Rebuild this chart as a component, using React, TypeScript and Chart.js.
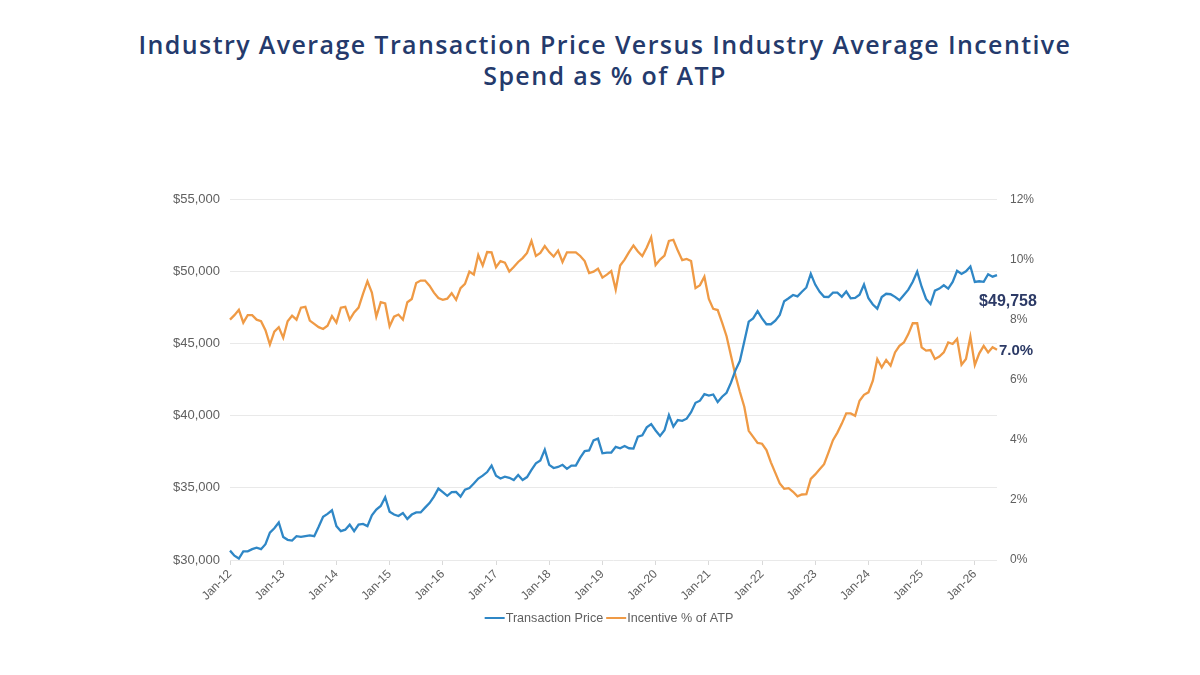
import { useEffect, useRef } from "react";
import { Chart, registerables } from "chart.js";

Chart.register(...registerables);

// Monthly series, Jan 2012 through Jun 2026
const YEARS = [2012, 2013, 2014, 2015, 2016, 2017, 2018, 2019, 2020, 2021, 2022, 2023, 2024, 2025, 2026];
const MONTH_NAMES = ["Jan", "Feb", "Mar", "Apr", "May", "Jun", "Jul", "Aug", "Sep", "Oct", "Nov", "Dec"];

// Industry average transaction price, USD
const ATP = [
  30650, 30300, 30100, 30600, 30600, 30750, 30850, 30750, 31100, 31900, 32200, 32600,
  31600, 31400, 31350, 31650, 31600, 31650, 31700, 31650, 32300, 33000, 33200, 33450,
  32350, 32000, 32100, 32450, 32000, 32450, 32500, 32350, 33100, 33500, 33750, 34350,
  33350, 33150, 33050, 33250, 32850, 33150, 33300, 33300, 33630, 33950, 34400, 34950,
  34700, 34450, 34700, 34720, 34400, 34880, 34990, 35300, 35650, 35850, 36100, 36550,
  35850, 35650, 35780, 35700, 35550, 35900, 35550, 35750, 36250, 36700, 36900, 37650,
  36600, 36380, 36450, 36600, 36320, 36550, 36550, 37100, 37550, 37600, 38300, 38420,
  37400, 37450, 37450, 37850, 37750, 37900, 37750, 37730, 38550, 38650, 39200, 39420,
  38980, 38600, 39000, 40050, 39250, 39700, 39650, 39800, 40250, 40900, 41050, 41500,
  41400, 41480, 40950, 41320, 41600, 42300, 43150, 43800, 45150, 46530, 46750, 47250,
  46750, 46350, 46350, 46600, 47000, 47950, 48150, 48380, 48280, 48600, 48900, 49850,
  49100, 48600, 48250, 48240, 48540, 48540, 48250, 48620, 48150, 48180, 48400, 49100,
  48150, 47720, 47430, 48240, 48460, 48430, 48250, 48020, 48380, 48750, 49300, 50000,
  48950, 48100, 47750, 48680, 48820, 49050, 48820, 49280, 50050, 49840, 50020, 50350,
  49280, 49330, 49290, 49820, 49650, 49758,
];

// Industry average incentive spend as % of ATP
const INCENTIVE_PCT = [
  8.0, 8.15, 8.33, 7.9, 8.15, 8.15, 8.0, 7.95, 7.65, 7.17, 7.6, 7.75,
  7.4, 7.95, 8.13, 8.0, 8.4, 8.43, 7.97, 7.86, 7.75, 7.69, 7.8, 8.12,
  7.9, 8.4, 8.43, 8.0, 8.24, 8.4, 8.86, 9.28, 8.9, 8.1, 8.58, 8.54,
  7.78, 8.1, 8.17, 8.0, 8.58, 8.69, 9.22, 9.3, 9.3, 9.13, 8.9, 8.72,
  8.66, 8.7, 8.88, 8.66, 9.05, 9.19, 9.6, 9.5, 10.15, 9.8, 10.25, 10.24,
  9.75, 9.95, 9.9, 9.6, 9.75, 9.92, 10.05, 10.22, 10.62, 10.12, 10.22, 10.45,
  10.25, 10.1, 10.3, 9.92, 10.24, 10.24, 10.24, 10.12, 9.95, 9.55, 9.6, 9.7,
  9.4, 9.5, 9.62, 9.0, 9.8, 10.0, 10.25, 10.47, 10.27, 10.12, 10.4, 10.74,
  9.82, 10.0, 10.13, 10.62, 10.66, 10.3, 9.98, 10.02, 9.95, 9.05, 9.15, 9.43,
  8.69, 8.36, 8.32, 7.9, 7.45, 6.8, 6.15, 5.6, 5.1, 4.3, 4.1, 3.9,
  3.87, 3.66, 3.25, 2.9, 2.55, 2.37, 2.39, 2.27, 2.12, 2.18, 2.19, 2.7,
  2.85, 3.02, 3.19, 3.58, 3.99, 4.24, 4.54, 4.88, 4.88, 4.8, 5.3, 5.5,
  5.58, 5.97, 6.69, 6.41, 6.66, 6.47, 6.91, 7.13, 7.24, 7.52, 7.88, 7.88,
  7.08, 6.97, 6.99, 6.69, 6.77, 6.91, 7.24, 7.19, 7.36, 6.5, 6.69, 7.43,
  6.49, 6.88, 7.13, 6.91, 7.08, 7.0,
];

const SERIES_NAMES = ["Transaction Price", "Incentive % of ATP"];
const SERIES_COLORS = ["#2f87c6", "#ef9a45"];
const TITLE_LINES = [
  "Industry Average Transaction Price Versus Industry Average Incentive",
  "Spend as % of ATP",
];

const PRICE_AXIS = { min: 30000, max: 55000, step: 5000 };
const PCT_AXIS = { min: 0, max: 12, step: 2 };

const LABELS = ATP.map(
  (_, i) => `${MONTH_NAMES[i % 12]}-${String(YEARS[Math.floor(i / 12)]).slice(2)}`
);

const AXIS_FONT = "'Liberation Sans', Arial, sans-serif";
const AXIS_COLOR = "#606060";
const LABEL_COLOR = "#2c3a66";

const fmtPrice = (v: number) => "$" + Math.round(v).toLocaleString("en-US");

// Value call-outs at the last point of each series
const endLabels = {
  id: "endLabels",
  afterDatasetsDraw(chart: any) {
    const { ctx } = chart;
    const last = ATP.length - 1;
    const px = chart.scales.x.getPixelForValue(last);
    const priceY = chart.scales.y.getPixelForValue(ATP[last]);
    const pctY = chart.scales.y1.getPixelForValue(INCENTIVE_PCT[last]);
    ctx.save();
    ctx.fillStyle = LABEL_COLOR;
    ctx.textBaseline = "middle";
    ctx.font = `bold 16px ${AXIS_FONT}`;
    ctx.textAlign = "center";
    ctx.fillText(fmtPrice(ATP[last]), px + 11, priceY + 27);
    ctx.font = `bold 15px ${AXIS_FONT}`;
    ctx.textAlign = "left";
    ctx.fillText(INCENTIVE_PCT[last].toFixed(1) + "%", px + 2, pctY + 1);
    ctx.restore();
  },
};

// Compact legend: a short coloured line touching each label
const lineLegend = {
  id: "lineLegend",
  afterDraw(chart: any) {
    const { ctx } = chart;
    const lineW = 20;
    const gap = 1;
    const spacing = 3;
    const cy = 618;
    ctx.save();
    ctx.font = `12.6px ${AXIS_FONT}`;
    const widths = SERIES_NAMES.map((n) => lineW + gap + ctx.measureText(n).width);
    const total = widths.reduce((a, b) => a + b, 0) + spacing * (widths.length - 1);
    let x = 609 - total / 2;
    SERIES_NAMES.forEach((name, i) => {
      ctx.strokeStyle = SERIES_COLORS[i];
      ctx.lineWidth = 2;
      ctx.beginPath();
      ctx.moveTo(x, cy);
      ctx.lineTo(x + lineW, cy);
      ctx.stroke();
      ctx.fillStyle = AXIS_COLOR;
      ctx.textAlign = "left";
      ctx.textBaseline = "middle";
      ctx.fillText(name, x + lineW + gap, cy + 1);
      x += widths[i] + spacing;
    });
    ctx.restore();
  },
};

export default function App() {
  const canvasRef = useRef<HTMLCanvasElement | null>(null);

  useEffect(() => {
    if (!canvasRef.current) return;
    const chart = new Chart(canvasRef.current, {
      type: "line",
      data: {
        labels: LABELS,
        datasets: [
          {
            label: SERIES_NAMES[0],
            data: ATP,
            yAxisID: "y",
            borderColor: SERIES_COLORS[0],
            backgroundColor: SERIES_COLORS[0],
            borderWidth: 2.3,
            pointRadius: 0,
            tension: 0,
          },
          {
            label: SERIES_NAMES[1],
            data: INCENTIVE_PCT,
            yAxisID: "y1",
            borderColor: SERIES_COLORS[1],
            backgroundColor: SERIES_COLORS[1],
            borderWidth: 2.3,
            pointRadius: 0,
            tension: 0,
          },
        ],
      },
      options: {
        animation: false,
        responsive: true,
        maintainAspectRatio: false,
        layout: { padding: { top: 199.5, bottom: 73, left: 0, right: 0 } },
        plugins: {
          legend: { display: false },
          title: { display: false },
          tooltip: { enabled: false },
        },
        scales: {
          x: {
            type: "category",
            grid: {
              display: true,
              drawOnChartArea: false,
              drawTicks: true,
              tickLength: 5,
              color: "#d9d9d9",
            },
            border: { display: false },
            ticks: {
              autoSkip: false,
              minRotation: 45,
              maxRotation: 45,
              padding: 2,
              color: AXIS_COLOR,
              font: { family: AXIS_FONT, size: 12 },
              callback(this: any, value: any) {
                return this.getLabelForValue(value);
              },
            },
            afterBuildTicks: (scale: any) => {
              scale.ticks = scale.ticks.filter((t: any) => t.value % 12 === 0);
            },
            afterFit: (scale: any) => {
              scale.height = 42;
            },
          },
          y: {
            position: "left",
            min: PRICE_AXIS.min,
            max: PRICE_AXIS.max,
            grid: { color: "#e9e9e9", drawTicks: false },
            border: { display: false },
            ticks: {
              stepSize: PRICE_AXIS.step,
              padding: 10,
              color: AXIS_COLOR,
              font: { family: AXIS_FONT, size: 13 },
              callback: (v: any) => fmtPrice(Number(v)),
            },
            afterFit: (scale: any) => {
              scale.width = 230;
            },
          },
          y1: {
            position: "right",
            min: PCT_AXIS.min,
            max: PCT_AXIS.max,
            grid: { display: false, drawTicks: false },
            border: { display: false },
            ticks: {
              stepSize: PCT_AXIS.step,
              padding: 13,
              color: AXIS_COLOR,
              font: { family: AXIS_FONT, size: 12 },
              callback: (v: any) => `${v}%`,
            },
            afterFit: (scale: any) => {
              scale.width = 203;
            },
          },
        },
      },
      plugins: [endLabels, lineLegend],
    });
    return () => chart.destroy();
  }, []);

  return (
    <div
      style={{
        position: "absolute",
        left: 0,
        top: 0,
        width: 1200,
        height: 675,
        background: "#ffffff",
        overflow: "hidden",
      }}
    >
      <div
        style={{
          position: "absolute",
          left: 0,
          top: 29,
          width: 1210,
          textAlign: "center",
          color: "#243a6c",
          fontFamily: "'Open Sans', sans-serif",
          fontWeight: 600,
          fontSize: 25,
          letterSpacing: "1.4px",
          lineHeight: "31px",
        }}
      >
        {TITLE_LINES.map((line) => (
          <div key={line}>{line}</div>
        ))}
      </div>
      <div style={{ position: "absolute", left: 0, top: 0, width: 1200, height: 675 }}>
        <canvas ref={canvasRef} />
      </div>
    </div>
  );
}
